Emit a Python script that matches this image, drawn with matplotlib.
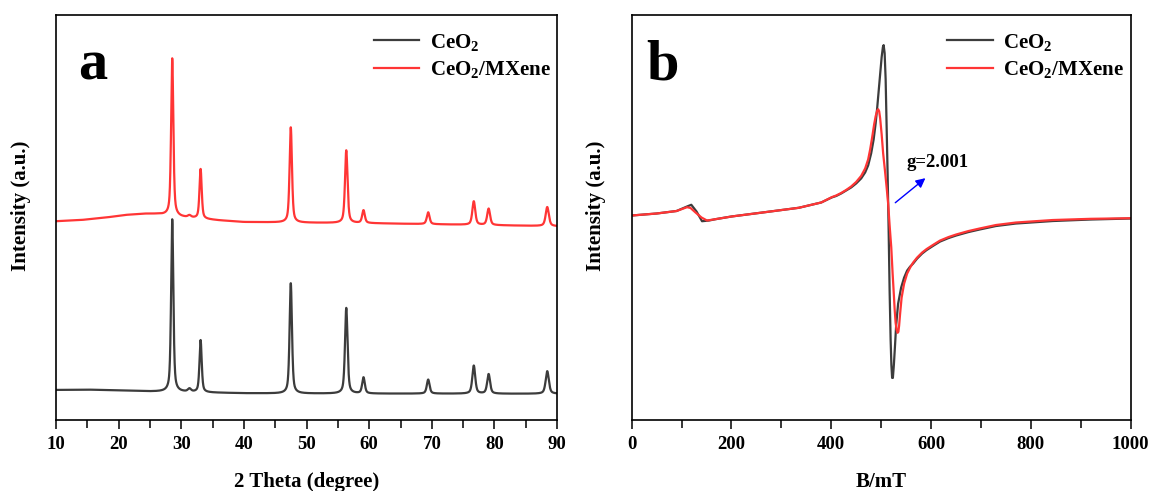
import numpy as np
import matplotlib
matplotlib.use("Agg")
import matplotlib.pyplot as plt
from matplotlib.ticker import MultipleLocator

plt.rcParams["font.family"] = ["Liberation Serif", "DejaVu Serif"]
plt.rcParams["font.weight"] = "bold"
plt.rcParams["mathtext.fontset"] = "custom"
plt.rcParams["mathtext.rm"] = "Liberation Serif:bold"
plt.rcParams["mathtext.default"] = "rm"

# ---------- (a) XRD: peaks ----------
peak_pos = [28.55, 31.3, 33.08, 47.48, 56.34, 59.09, 69.42, 76.70, 79.07, 88.43]
peak_fwhm = [0.42, 0.6, 0.42, 0.45, 0.48, 0.5, 0.52, 0.55, 0.55, 0.6]
ceo2_amp = [172, 3, 52, 110, 85.4, 16, 14, 28, 19.5, 22.5]
mx_amp = [157, 2, 49.5, 95, 72.5, 12.7, 11.8, 23.5, 16.4, 19]

# baselines (2theta, level) – level = height above the x axis in plot units
ceo2_base_x = [10, 15, 20, 25, 30, 35, 40, 45, 50, 60, 70, 80, 90]
ceo2_base_y = [30.0, 30.3, 29.5, 28.5, 28.0, 27.3, 26.7, 26.5, 26.4, 26.3, 26.3, 26.2, 26.2]
mx_base_x = [10, 14, 18, 21, 24, 26, 28, 30, 33, 36, 40, 50, 60, 70, 80, 90]
mx_base_y = [198.3, 199.5, 202.0, 204.5, 205.8, 205.5, 204.2, 202.5, 200.8, 199.2, 197.5,
             196.8, 196.3, 195.3, 194.3, 193.3]

# ---------- (b) EPR: curves ----------
epr_mx_B = [0, 50, 90, 111, 118, 128, 140, 151, 170, 200, 267, 335, 380, 401,
            410, 420, 430, 440, 450, 460, 468, 474, 478, 482, 486, 489, 492, 494,
            496, 498, 501, 504, 507.6, 511, 514, 517, 520.3, 523, 525, 527, 529,
            531, 533, 534.5, 536, 538, 541, 546, 552, 558, 564, 572, 582, 591,
            605, 618, 635, 650, 675, 697, 730, 770, 844, 920, 1000]
epr_mx_I = [204, 206, 208.5, 212.3, 211.5, 207, 202, 199, 200.5, 203, 207.3, 211.7, 217, 222.3,
            224, 226.5, 229.5, 233, 237.5, 243.5, 251, 260, 270, 282, 295, 303, 308.5, 310,
            308, 301, 285, 266, 249, 232, 216, 194, 172, 146, 129, 111, 97,
            90, 87, 88, 94, 106, 122, 136, 146, 152, 157, 162, 167, 170.5,
            175, 179, 182.5, 185, 188.5, 191, 194.5, 197, 199.5, 200.7, 201.3]
epr_ce_B = [0, 50, 90, 111, 119.5, 130, 141, 155, 170, 200, 267, 335, 380, 401,
            410, 420, 430, 440, 450, 460, 468, 474, 480, 485, 489, 492, 495, 498,
            501, 503.5, 505, 507, 509, 511, 513, 515, 517, 519, 520.5, 522, 523.5,
            525.5, 528, 530, 534, 540, 546, 552, 558, 564, 572, 582, 591,
            605, 618, 635, 650, 675, 697, 730, 770, 844, 920, 1000]
epr_ce_I = [204, 206, 208.5, 213, 214.7, 208, 198.3, 199, 200.5, 203, 207.3, 211.7, 217, 222,
            223.5, 226, 229, 232, 236, 241, 247, 254, 266, 280, 296, 311, 328, 345,
            362, 372, 374, 366, 340, 292, 245, 190, 128, 80, 55, 42, 42,
            55, 76, 94, 116, 132, 142, 149, 153, 156, 161, 166, 169.5,
            174, 178, 181.5, 184, 187.5, 190, 193.5, 196, 198.5, 200, 201]

black = "#3c3c3c"
red = "#ff3535"


def pvoigt(x, x0, fwhm, amp, eta=0.55):
    g = fwhm / 2.0
    lor = 1.0 / (1.0 + ((x - x0) / g) ** 2)
    gau = np.exp(-np.log(2) * ((x - x0) / g) ** 2)
    return amp * (eta * lor + (1 - eta) * gau)


tt = np.linspace(10, 90, 6000)
ceo2 = np.interp(tt, ceo2_base_x, ceo2_base_y)
mx = np.interp(tt, mx_base_x, mx_base_y)
for p, w, a1, a2 in zip(peak_pos, peak_fwhm, ceo2_amp, mx_amp):
    ceo2 += pvoigt(tt, p, w, a1)
    mx += pvoigt(tt, p, w, a2)

fig = plt.figure(figsize=(11.51, 4.91), dpi=100)
ax1 = fig.add_axes([0.0487, 0.1446, 0.4353, 0.8248])
ax2 = fig.add_axes([0.5488, 0.1446, 0.4335, 0.8248])

ax1.plot(tt, ceo2, color=black, lw=1.6, label="CeO$_2$")
ax1.plot(tt, mx, color=red, lw=1.6, label="CeO$_2$/MXene")
ax1.set_xlim(10, 90)
ax1.set_ylim(0, 404)
ax1.xaxis.set_major_locator(MultipleLocator(10))
ax1.xaxis.set_minor_locator(MultipleLocator(5))
ax1.set_xlabel("2 Theta (degree)", fontsize=15, fontweight="bold")
ax1.text(0.044, 0.84, "a", transform=ax1.transAxes, fontsize=42, fontweight="bold")

ax2.plot(epr_ce_B, epr_ce_I, color=black, lw=1.6, label="CeO$_2$")
ax2.plot(epr_mx_B, epr_mx_I, color=red, lw=1.6, label="CeO$_2$/MXene")
ax2.set_xlim(0, 1000)
ax2.set_ylim(0, 404)
ax2.xaxis.set_major_locator(MultipleLocator(200))
ax2.xaxis.set_minor_locator(MultipleLocator(100))
ax2.set_xlabel("B/mT", fontsize=15, fontweight="bold")
ax2.text(0.03, 0.84, "b", transform=ax2.transAxes, fontsize=42, fontweight="bold")
ax2.annotate("", xy=(593, 243), xytext=(524, 215),
             arrowprops=dict(arrowstyle="-|>", color="blue", lw=1.0, mutation_scale=14))
ax2.text(550, 252, "g=2.001", fontsize=13.5, fontweight="bold")

for ax, lx in ((ax1, -0.05), (ax2, -0.052)):
    ax.set_yticks([])
    ax.set_ylabel("Intensity (a.u.)", fontsize=15, fontweight="bold")
    ax.yaxis.set_label_coords(lx, 0.53)
    ax.xaxis.set_label_coords(0.5, -0.128)
    ax.tick_params(axis="x", which="major", direction="out", length=6.5, width=1.1,
                   labelsize=13.5, pad=5)
    ax.tick_params(axis="x", which="minor", direction="out", length=5.5, width=1.1)
    for lab in ax.get_xticklabels():
        lab.set_fontweight("bold")
    for s in ax.spines.values():
        s.set_linewidth(1.2)
    ax.legend(loc="upper right", bbox_to_anchor=(1.012, 0.99), frameon=False,
              fontsize=15, handlelength=2.2, handletextpad=0.5, labelspacing=0.3,
              borderaxespad=0.2)

fig.savefig("out.png", dpi=100)
